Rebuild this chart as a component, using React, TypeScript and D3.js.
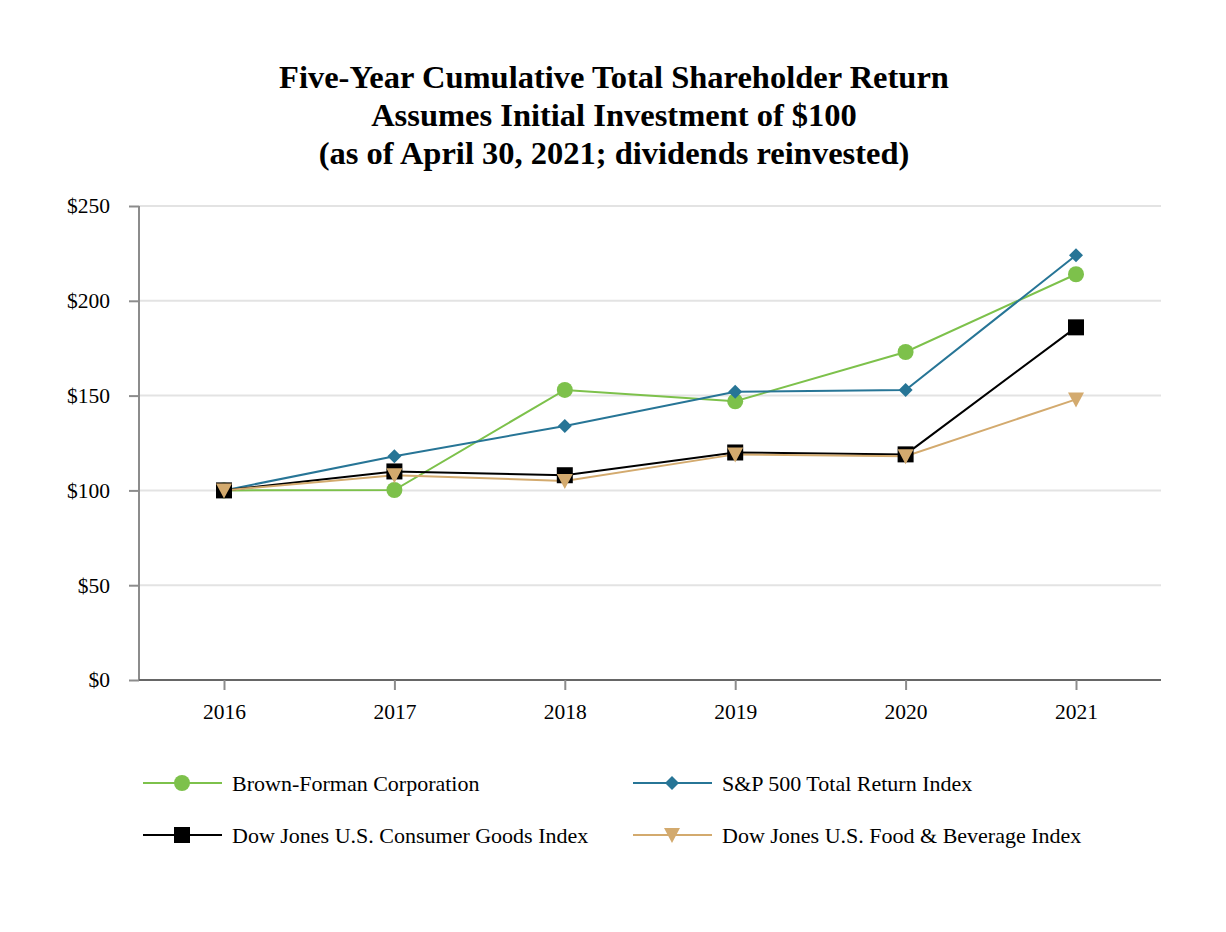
import * as d3 from "d3";
import { useEffect, useRef } from "react";

const years = ["2016", "2017", "2018", "2019", "2020", "2021"];
const brownForman = [100, 100.2, 153, 147, 173, 214];
const sp500 = [100, 118, 134, 152, 153, 224];
const djConsumer = [100, 110, 108, 120, 119, 186];
const djFoodBev = [100, 108, 105, 119, 118, 148];
const yTicks = [0, 50, 100, 150, 200, 250];

const seriesList = [
  { name: "Brown-Forman Corporation", values: brownForman, color: "#7dc14b", shape: "circle" },
  { name: "S&P 500 Total Return Index", values: sp500, color: "#277596", shape: "diamond" },
  { name: "Dow Jones U.S. Consumer Goods Index", values: djConsumer, color: "#000000", shape: "square" },
  { name: "Dow Jones U.S. Food & Beverage Index", values: djFoodBev, color: "#d3aa6e", shape: "triangle" },
];

// draw a marker centred on (0,0)
function drawMarker(g, shape, color) {
  if (shape === "circle") {
    g.append("circle").attr("r", 8).attr("fill", color);
  } else if (shape === "diamond") {
    g.append("path").attr("d", "M0,-7L7,0L0,7L-7,0Z").attr("fill", color);
  } else if (shape === "square") {
    g.append("rect").attr("x", -8).attr("y", -8).attr("width", 16).attr("height", 16).attr("fill", color);
  } else {
    g.append("path").attr("d", "M-8,-7L8,-7L0,8Z").attr("fill", color);
  }
}

export default function App() {
  const ref = useRef(null);

  useEffect(() => {
    const svg = d3.select(ref.current);
    svg.selectAll("*").remove();

    const width = 1226;
    const height = 932;
    const margin = { top: 206, right: 65, bottom: 252, left: 139 };
    const font = "'Liberation Serif', 'Times New Roman', serif";

    const x = d3
      .scalePoint()
      .domain(years)
      .range([224, 1076]);

    const y = d3
      .scaleLinear()
      .domain([0, 250])
      .range([height - margin.bottom, margin.top]);

    // Title
    const titleLines = [
      "Five-Year Cumulative Total Shareholder Return",
      "Assumes Initial Investment of $100",
      "(as of April 30, 2021; dividends reinvested)",
    ];
    svg
      .append("g")
      .selectAll("text")
      .data(titleLines)
      .enter()
      .append("text")
      .attr("x", 614)
      .attr("y", (d, i) => 88 + i * 38)
      .attr("text-anchor", "middle")
      .attr("font-family", font)
      .attr("font-weight", "bold")
      .attr("font-size", "32.5px")
      .attr("fill", "#000")
      .text((d) => d);

    // Gridlines
    svg
      .append("g")
      .selectAll("line")
      .data(yTicks.filter((d) => d > 0))
      .enter()
      .append("line")
      .attr("x1", margin.left)
      .attr("x2", width - margin.right)
      .attr("y1", (d) => y(d))
      .attr("y2", (d) => y(d))
      .attr("stroke", "#e3e3e3")
      .attr("stroke-width", 2);

    // Y axis
    const yAxis = svg
      .append("g")
      .attr("transform", `translate(${margin.left},0)`)
      .call(
        d3.axisLeft(y)
          .tickValues(yTicks)
          .tickSize(10)
          .tickPadding(19)
          .tickFormat((d) => `$${d}`)
      );
    yAxis.select(".domain").attr("stroke", "#8c8c8c").attr("stroke-width", 2).attr("d", `M0,${y(250)}V${y(0)}`);
    yAxis.selectAll(".tick line").attr("stroke", "#8c8c8c").attr("stroke-width", 2);
    yAxis
      .selectAll("text")
      .attr("font-family", font)
      .attr("font-size", "21.5px")
      .attr("fill", "#000");

    // X axis
    const xAxis = svg
      .append("g")
      .attr("transform", `translate(0,${y(0)})`)
      .call(d3.axisBottom(x).tickSize(10).tickPadding(14));
    xAxis
      .select(".domain")
      .attr("stroke", "#666")
      .attr("stroke-width", 2)
      .attr("d", `M${margin.left},0H${width - margin.right}`);
    xAxis.selectAll(".tick line").attr("stroke", "#8c8c8c").attr("stroke-width", 2);
    xAxis
      .selectAll("text")
      .attr("font-family", font)
      .attr("font-size", "21.5px")
      .attr("fill", "#000");

    // Lines
    const line = d3
      .line<number>()
      .x((d, i) => x(years[i]))
      .y((d) => y(d));

    seriesList.forEach((s) => {
      svg
        .append("path")
        .datum(s.values)
        .attr("fill", "none")
        .attr("stroke", s.color)
        .attr("stroke-width", 2)
        .attr("d", line);
    });

    // Markers drawn after lines, in order
    seriesList.forEach((s) => {
      s.values.forEach((v, i) => {
        const g = svg.append("g").attr("transform", `translate(${x(years[i])},${y(v)})`);
        drawMarker(g, s.shape, s.color);
      });
    });

    // Legend
    const legend = svg.append("g");
    seriesList.forEach((s, i) => {
      const lx = 143 + (i % 2) * 490;
      const ly = 783 + Math.floor(i / 2) * 52;
      const item = legend.append("g").attr("transform", `translate(${lx},${ly})`);
      item
        .append("line")
        .attr("x1", 0)
        .attr("x2", 79)
        .attr("stroke", s.color)
        .attr("stroke-width", 2);
      drawMarker(item.append("g").attr("transform", "translate(39,0)"), s.shape, s.color);
      item
        .append("text")
        .attr("x", 89)
        .attr("y", 0)
        .attr("dy", "0.35em")
        .attr("font-family", font)
        .attr("font-size", "22px")
        .attr("fill", "#000")
        .text(s.name);
    });
  }, []);

  return (
    <div style={{ width: 1226, height: 932, margin: -8 }}>
      <svg ref={ref} width={1226} height={932} style={{ display: "block" }} />
    </div>
  );
}
